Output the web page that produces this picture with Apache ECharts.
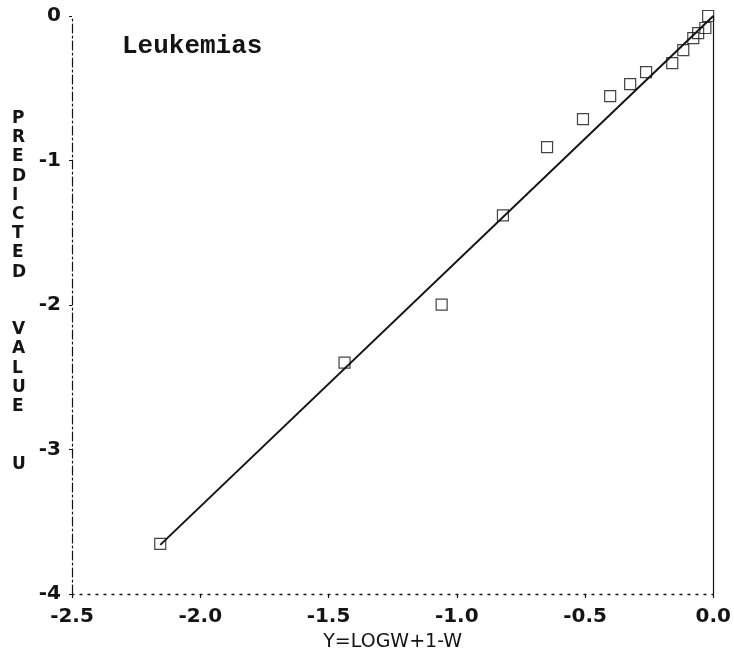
<!DOCTYPE html>
<html>
<head>
<meta charset="utf-8">
<script src="https://cdn.jsdelivr.net/npm/echarts@6/dist/echarts.min.js"></script>
<style>
  html, body { margin: 0; padding: 0; background: #fff; }
  #chart { width: 734px; height: 667px; }
</style>
</head>
<body>
<div id="chart"></div>
<script>
// Observed points: Y = log W + 1 - W against the predicted value U
const obsY = [-2.156, -1.4375, -1.059, -0.820, -0.648, -0.508, -0.402, -0.324, -0.262, -0.160, -0.117, -0.078, -0.059, -0.031, -0.020];
const obsU = [-3.653, -2.399, -1.997, -1.380, -0.908, -0.714, -0.555, -0.471, -0.388, -0.326, -0.236, -0.153, -0.118, -0.083, 0.000];

// Fitted line endpoints
const fitY = [-2.156, 0.0];
const fitU = [-3.66, 0.0];

// Axis ranges and tick steps
const xTicks = { min: -2.5, max: 0.0, step: 0.5 };
const yTicks = { min: -4, max: 0, step: 1 };

const panelTitle = 'Leukemias';
const xTitle = 'Y=LOGW+1-W';
const yTitle = 'PREDICTED  VALUE  U';

const ink = '#141414';

const points = obsY.map((x, i) => [x, obsU[i]]);
const fitLine = fitY.map((x, i) => [x, fitU[i]]);

const chart = echarts.init(document.getElementById('chart'), null, { renderer: 'canvas' });

chart.setOption({
  backgroundColor: '#ffffff',
  animation: false,
  title: [
    {
      text: panelTitle,
      left: 117,
      top: 28,
      textStyle: { fontFamily: 'Liberation Mono', fontWeight: 'bold', fontSize: 26, color: ink }
    },
    {
      // stacked upright letters for the vertical axis title
      text: yTitle.split('').join('\n'),
      left: 7,
      top: 104,
      textStyle: { fontFamily: 'DejaVu Sans', fontWeight: 'bold', fontSize: 17, lineHeight: 19.2, color: ink }
    }
  ],
  grid: { left: 72, right: 18, top: 16, bottom: 73 },
  xAxis: {
    type: 'value',
    min: xTicks.min,
    max: xTicks.max,
    interval: xTicks.step,
    name: xTitle,
    nameLocation: 'middle',
    nameGap: 39,
    nameTextStyle: { fontFamily: 'DejaVu Sans', fontSize: 19, color: ink },
    axisLine: { show: true, onZero: false, lineStyle: { color: ink, width: 1.3, type: [2, 6] } },
    axisTick: { show: true, inside: false, length: 4, lineStyle: { color: ink, width: 1.2 } },
    axisLabel: {
      margin: 13,
      fontFamily: 'DejaVu Sans',
      fontWeight: 'bold',
      fontSize: 20,
      color: ink,
      formatter: v => v.toFixed(1)
    },
    splitLine: { show: false }
  },
  yAxis: [
    {
      type: 'value',
      position: 'left',
      min: yTicks.min,
      max: yTicks.max,
      interval: yTicks.step,
      axisLine: { show: true, onZero: false, lineStyle: { color: ink, width: 1.2, type: [9, 3, 2, 3] } },
      axisTick: { show: true, length: 3, lineStyle: { color: ink, width: 1 } },
      axisLabel: {
        margin: 11,
        fontFamily: 'DejaVu Sans',
        fontWeight: 'bold',
        fontSize: 20,
        color: ink,
        formatter: v => String(v)
      },
      splitLine: { show: false }
    },
    {
      // right-hand frame edge
      type: 'value',
      position: 'right',
      min: yTicks.min,
      max: yTicks.max,
      interval: yTicks.step,
      axisLine: { show: true, onZero: false, lineStyle: { color: ink, width: 1.2 } },
      axisTick: { show: false },
      axisLabel: { show: false },
      splitLine: { show: false }
    }
  ],
  series: [
    {
      type: 'line',
      data: fitLine,
      symbol: 'none',
      lineStyle: { color: ink, width: 2 },
      z: 2
    },
    {
      type: 'scatter',
      data: points,
      symbol: 'rect',
      symbolSize: 11,
      itemStyle: { color: 'rgba(255,255,255,0)', borderColor: ink, borderWidth: 1.2 },
      z: 3
    }
  ]
});
</script>
</body>
</html>
